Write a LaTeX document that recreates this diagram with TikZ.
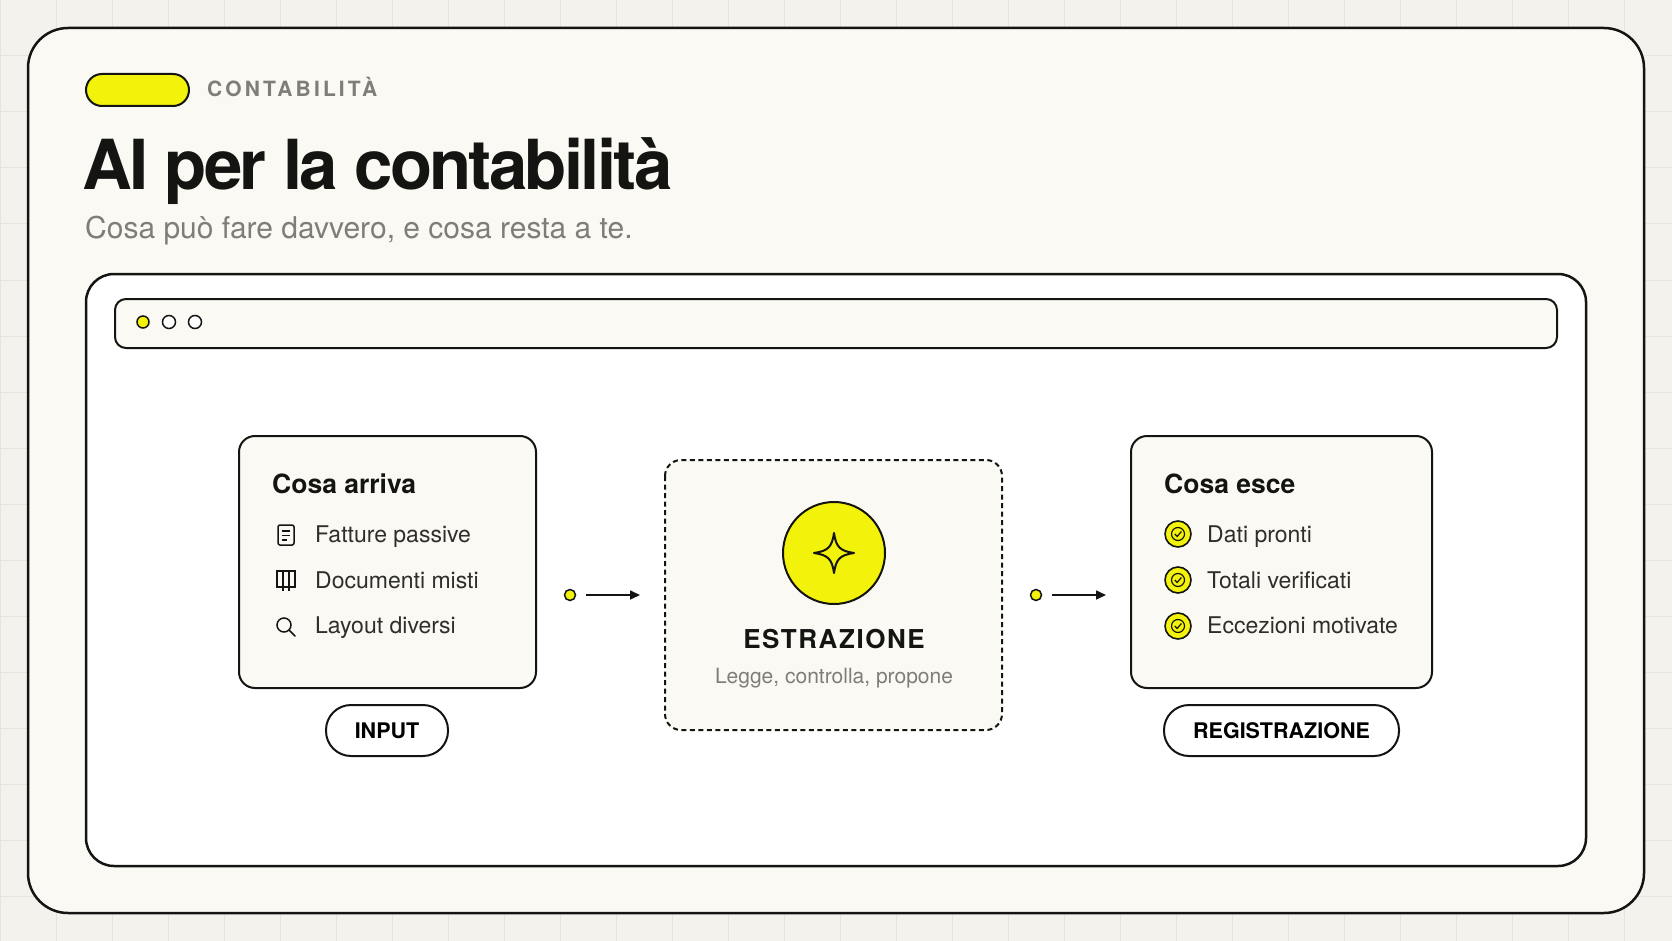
\documentclass[tikz,border=0pt]{standalone}
\usepackage{fontspec}
\setmainfont{TeX Gyre Heros}
\usetikzlibrary{arrows.meta,calc}
\definecolor{bg}{HTML}{F3F2EC}
\definecolor{gridc}{HTML}{E6E4DC}
\definecolor{card}{HTML}{FAF9F3}
\definecolor{yel}{HTML}{F2F20A}
\definecolor{gry}{HTML}{7E7D76}
\definecolor{ink}{HTML}{141412}
\definecolor{txt}{HTML}{2E2E2A}
\tikzset{
  box/.style={draw=ink,line width=2pt,rounded corners=16pt,fill=card},
  pill/.style={draw=ink,line width=2pt,rounded corners=25pt,fill=white,inner sep=0pt,font=\fontsize{21.5}{24}\selectfont\bfseries},
  item/.style={anchor=base west,inner sep=0pt,text=txt,font=\fontsize{23}{26}\selectfont},
  head/.style={anchor=base west,inner sep=0pt,text=ink,font=\fontsize{26.5}{29}\selectfont\bfseries},
  ic/.style={draw=ink,line width=1.5pt},
  ydot/.style={circle,draw=ink,line width=1.5pt,fill=yel,minimum size=12pt,inner sep=0pt},
  odot/.style={circle,draw=ink,line width=1.5pt,fill=white,minimum size=13pt,inner sep=0pt},
  arr/.style={draw=ink,line width=1.6pt,-{Triangle[length=10pt,width=9pt]}},
}
\newcommand{\chk}[1]{%
  \fill[yel,draw=ink,line width=1.6pt] (#1) circle (13);
  \draw[ink,line width=1.2pt] (#1) circle (6.5);
  \draw[ink,line width=1.2pt] ($(#1)+(-3.2,0)$) -- ++(2.3,2.5) -- ++(4.3,-5);}
\begin{document}
\begin{tikzpicture}[x=1pt,y=-1pt]
\useasboundingbox (0,0) rectangle (1672,941);
\fill[bg] (0,0) rectangle (1672,941);
\foreach \i in {0,56,...,1680} \draw[gridc,line width=1pt] (\i,0) -- (\i,941);
\foreach \j in {0,56,...,941} \draw[gridc,line width=1pt] (0,\j) -- (1672,\j);
% card
\draw[draw=ink,line width=2.5pt,fill=card,rounded corners=40pt] (28,28) rectangle (1644,913);
% header
\draw[draw=ink,line width=2pt,fill=yel,rounded corners=16pt] (86,74) rectangle (189,106);
\node[anchor=base west,inner sep=0pt,text=gry,font=\fontsize{21}{24}\selectfont\bfseries] (tag) at (207,97) {\addfontfeature{LetterSpace=15}CONTABILITÀ};
\node[anchor=base west,inner sep=0pt,text=ink,font=\fontsize{69}{74}\selectfont\bfseries] (title) at (82,190) {\addfontfeature{LetterSpace=-4}AI per la contabilità};
\node[anchor=base west,inner sep=0pt,text=gry,font=\fontsize{30}{33}\selectfont] (sub) at (85,239) {Cosa può fare davvero, e cosa resta a te.};
% window
\draw[draw=ink,line width=2.5pt,fill=white,rounded corners=28pt] (86,274) rectangle (1586,866);
\draw[draw=ink,line width=2pt,fill=card,rounded corners=11pt] (115,299) rectangle (1557,348);
\node[ydot] (d1) at (143,322) {};
\node[odot] (d2) at (169,322) {};
\node[odot] (d3) at (195,322) {};
% left box
\draw[box] (239,436) rectangle (536,688);
\node[head] (h1) at (272,493) {Cosa arriva};
\node[item] (l1) at (315,542) {Fatture passive};
\node[item] (l2) at (315,588) {Documenti misti};
\node[item] (l3) at (315,633) {Layout diversi};
% doc icon
\draw[ic,rounded corners=2pt] (278,525) rectangle (294,545);
\draw[ic,line width=1.2pt] (282,531)--(290,531) (282,535.5)--(290,535.5) (282,540)--(287,540);
% book icon
\draw[ic,line width=1.4pt] (277,571) rectangle (295,587);
\draw[ic,line width=1.4pt] (283,571)--(283,591) (289,571)--(289,591);
% magnifier
\draw[ic] (284,625) circle (7);
\draw[ic,line cap=round] (289,630)--(295,636);
\node[pill,minimum width=122pt,minimum height=51pt] (in) at (387,730.5) {INPUT};
% connector 1
\node[ydot,minimum size=11pt] (c1) at (570,595) {};
\coordinate (e1) at (640,595);
\draw[arr] ($(c1)+(16,0)$) -- (e1);
% middle
\draw[draw=ink,line width=2pt,dash pattern=on 5pt off 3.5pt,fill=card,rounded corners=16pt] (665,460) rectangle (1002,730);
\node[circle,draw=ink,line width=2pt,fill=yel,minimum size=102pt,inner sep=0pt] (star) at (834,553) {};
\draw[ink,line width=2pt,line join=round] (834,533) .. controls (836,547) and (840,551) .. (854,553)
  .. controls (840,555) and (836,559) .. (834,573) .. controls (832,559) and (828,555) .. (814,553)
  .. controls (828,551) and (832,547) .. (834,533) -- cycle;
\node[anchor=base,inner sep=0pt,text=ink,font=\fontsize{26}{30}\selectfont\bfseries] (est) at (834,648) {\addfontfeature{LetterSpace=6}ESTRAZIONE};
\node[anchor=base,inner sep=0pt,text=gry,font=\fontsize{21}{24}\selectfont] (leg) at (834,683) {Legge, controlla, propone};
% connector 2
\node[ydot,minimum size=11pt] (c2) at (1036,595) {};
\coordinate (e2) at (1106,595);
\draw[arr] ($(c2)+(16,0)$) -- (e2);
% right box
\draw[box] (1131,436) rectangle (1432,688);
\node[head] (h2) at (1164,493) {Cosa esce};
\node[item] (r1) at (1207,542) {Dati pronti};
\node[item] (r2) at (1207,588) {Totali verificati};
\node[item] (r3) at (1207,633) {Eccezioni motivate};
\coordinate (k1) at (1178,534);
\coordinate (k2) at (1178,580);
\coordinate (k3) at (1178,626);
\chk{k1}\chk{k2}\chk{k3}
\node[pill,minimum width=235pt,minimum height=51pt] (reg) at (1281.5,730.5) {REGISTRAZIONE};
\end{tikzpicture}
\end{document}
